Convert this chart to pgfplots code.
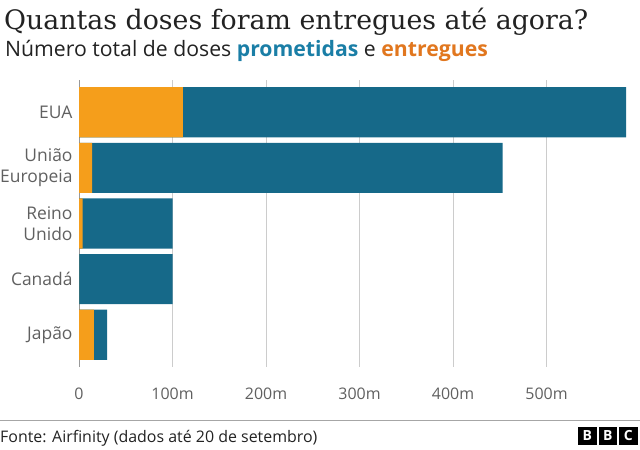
\documentclass[border=0pt]{standalone}
\usepackage{fontspec}
\setmainfont{Open Sans}
\newfontfamily\titlefont{DejaVu Serif}
\usepackage{pgfplots}
\pgfplotsset{compat=1.18}
\definecolor{barblue}{HTML}{166989}
\definecolor{barorange}{HTML}{F59E1B}
\definecolor{subblue}{HTML}{1A7EA6}
\definecolor{suborange}{HTML}{E1771F}
\definecolor{titlec}{HTML}{222222}
\definecolor{labc}{HTML}{606060}
\definecolor{gridc}{HTML}{CCCCCC}
\begin{document}
\begin{tikzpicture}[x=1bp,y=1bp]
\path[use as bounding box] (0,0) rectangle (640,-450);
\node[anchor=base west, inner sep=0, text=titlec] at (4,-30) {\titlefont\fontsize{26.9}{30}\selectfont Quantas doses foram entregues até agora?};
\node[anchor=base west, inner sep=0, text=titlec] at (5,-57) {\fontsize{21.3}{24}\selectfont Número total de doses \textcolor{subblue}{\bfseries prometidas} e \textcolor{suborange}{\bfseries entregues}};
\begin{axis}[
  at={(79bp,-367bp)}, anchor=south west, scale only axis,
  width=551.7bp, height=287bp,
  xmin=0, xmax=590, ymin=-0.58, ymax=4.58, y dir=reverse,
  xbar, bar width=0.9, bar shift=0pt,
  axis line style={draw=none}, major tick length=0,
  xmajorgrids, grid style={color=gridc, line width=1bp},
  xtick={0,100,200,300,400,500},
  xticklabels={0,100m,200m,300m,400m,500m},
  ytick={0,1,2,3,4},
  yticklabels={EUA,União\\Europeia,Reino\\Unido,Canadá,Japão},
  xticklabel style={font=\fontsize{16}{18}\selectfont, text=labc, yshift=-17bp},
  yticklabel style={font=\fontsize{17.5}{21}\selectfont, text=labc, align=right, xshift=-3bp},
  clip=false,
]
\draw[color=gray!80, line width=1bp] (axis cs:0,-0.58) -- (axis cs:0,4.58);
\addplot[draw=none, fill=barblue] coordinates {(585,0) (453,1) (100,2) (100,3) (30,4)};
\addplot[draw=none, fill=barorange] coordinates {(111,0) (14,1) (4,2) (0,3) (16,4)};
\end{axis}
\draw[color=gray!70, line width=1bp] (0,-420) -- (640,-420);
\node[anchor=base west, inner sep=0, text=titlec] at (0,-442) {\fontsize{16}{18}\selectfont Fonte: Airfinity (dados até 20 de setembro)};
\foreach \i/\l in {0/B,1/B,2/C}{
  \fill[black] (578+20.5*\i,-427) rectangle ++(18.5,-17.5);
  \node[text=white, font=\bfseries\fontsize{14}{14}\selectfont, inner sep=0] at (587.25+20.5*\i,-435.75) {\l};
}
\end{tikzpicture}
\end{document}
